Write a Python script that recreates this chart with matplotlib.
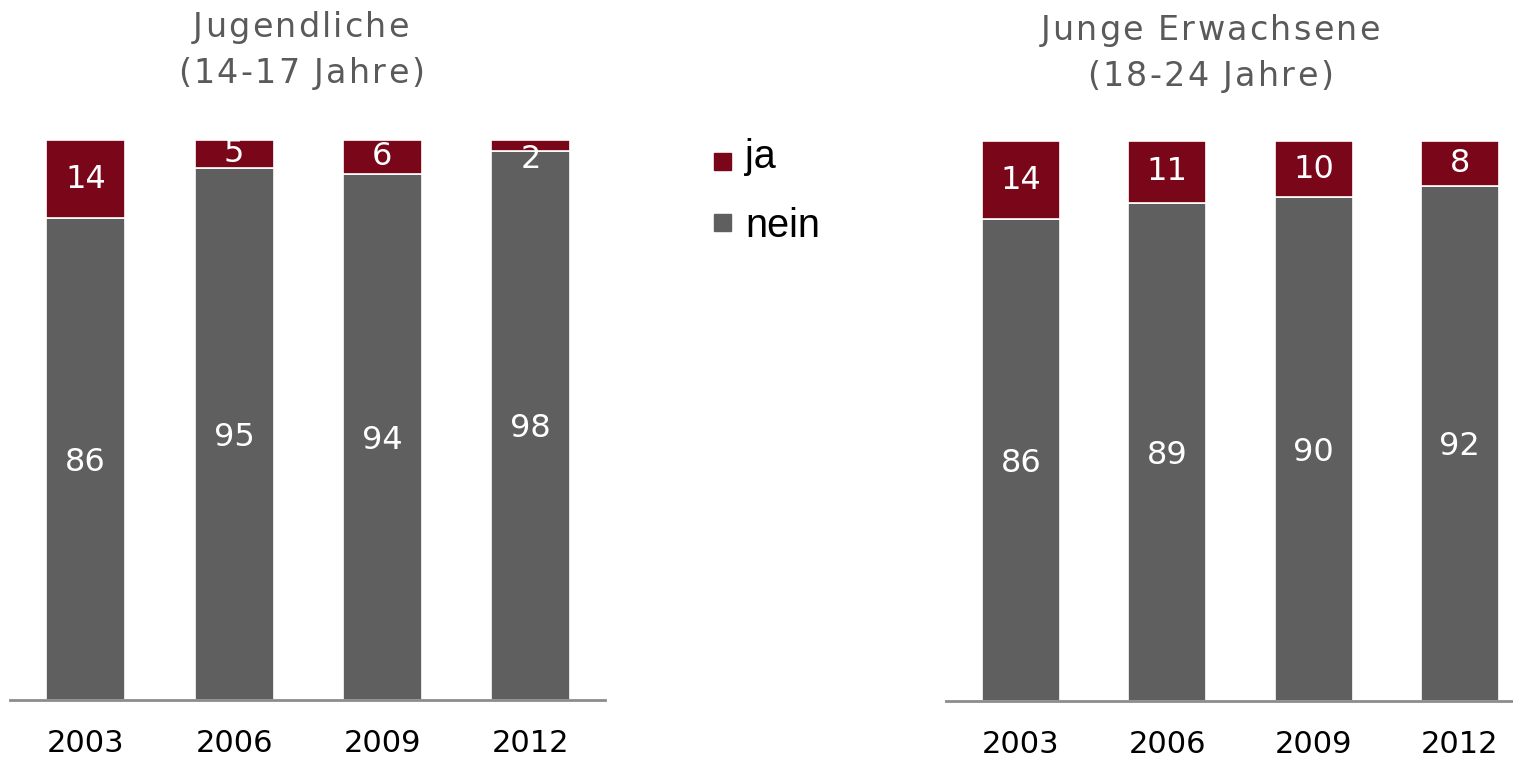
import matplotlib
matplotlib.use("Agg")
import matplotlib.pyplot as plt
from matplotlib import font_manager
from matplotlib.ft2font import FT2Font
from matplotlib.patches import Rectangle

years = ["2003", "2006", "2009", "2012"]
jugend_ja = [14, 5, 6, 2]
jugend_nein = [86, 95, 94, 98]
junge_ja = [14, 11, 10, 8]
junge_nein = [86, 89, 90, 92]
title_left = ["Jugendliche", "(14-17 Jahre)"]
title_right = ["Junge Erwachsene", "(18-24 Jahre)"]
legend_labels = ["ja", "nein"]

C_JA = "#7A0719"
C_NEIN = "#5F5F5F"
C_AXIS = "#8C8C8C"
C_TITLE = "#5A5A5A"

W, H, DPI = 1513, 758, 100
fig = plt.figure(figsize=(W / DPI, H / DPI), dpi=DPI)


def px_ax(x0, x1, ybot, ytop):
    return [x0 / W, (H - ybot) / H, (x1 - x0) / W, (ybot - ytop) / H]


def draw_panel(ax, ja, nein, xlim, width):
    x = list(range(len(years)))
    ax.bar(x, nein, width=width, color=C_NEIN, edgecolor="white", linewidth=1.2)
    ax.bar(x, ja, bottom=nein, width=width, color=C_JA, edgecolor="white", linewidth=1.2)
    ax.set_xlim(*xlim)
    ax.set_ylim(0, 100)
    for s in ["top", "right", "left"]:
        ax.spines[s].set_visible(False)
    ax.spines["bottom"].set_color(C_AXIS)
    ax.spines["bottom"].set_linewidth(2)
    ax.set_yticks([])
    ax.set_xticks(x)
    ax.set_xticklabels(years, fontsize=22, color="black", family="DejaVu Sans")
    ax.tick_params(axis="x", length=0, pad=21)
    for i in x:
        ax.text(i, nein[i] / 2 - 0.6, str(nein[i]), ha="center", va="center",
                color="white", fontsize=23, family="DejaVu Sans")
        yj = nein[i] + ja[i] / 2 if ja[i] >= 3 else 100 - 3.5
        ax.text(i, yj, str(ja[i]), ha="center", va="center",
                color="white", fontsize=23, family="DejaVu Sans")


axL = fig.add_axes(px_ax(10, 605, 700, 140))
draw_panel(axL, jugend_ja, jugend_nein, (-0.51, 3.5), 0.533)
axR = fig.add_axes(px_ax(946, 1513, 701, 141))
draw_panel(axR, junge_ja, junge_nein, (-0.513, 3.363), 0.533)


def spaced_text(s, cx, baseline, size, spacing_px, color, family="DejaVu Sans"):
    prop = font_manager.FontProperties(family=family, size=size)
    font = FT2Font(font_manager.findfont(prop))
    font.set_size(size, DPI)
    adv = []
    for c in s:
        g = font.load_char(ord(c))
        adv.append(g.linearHoriAdvance / 65536.0)
    total = sum(adv) + spacing_px * (len(s) - 1)
    x = cx - total / 2
    for c, a in zip(s, adv):
        if c != " ":
            fig.text(x / W, (H - baseline) / H, c, fontproperties=prop,
                     color=color, ha="left", va="baseline")
        x += a + spacing_px


spaced_text(title_left[0], 301, 37, 24, 2.2, C_TITLE)
spaced_text(title_left[1], 301, 83, 24, 2.2, C_TITLE)
spaced_text(title_right[0], 1210, 40, 24, 2.2, C_TITLE)
spaced_text(title_right[1], 1210, 86, 24, 2.2, C_TITLE)

# legend
for lab, col, yc, base in zip(legend_labels, [C_JA, C_NEIN], [161.5, 222.5], [168, 237]):
    fig.patches.append(Rectangle((714 / W, (H - yc - 8.5) / H), 17 / W, 17 / H,
                                 transform=fig.transFigure, color=col))
    fig.text(745 / W, (H - base) / H, lab, fontsize=28.5, family="Liberation Sans",
             color="black", ha="left", va="baseline")

fig.savefig("out.png", dpi=DPI)
